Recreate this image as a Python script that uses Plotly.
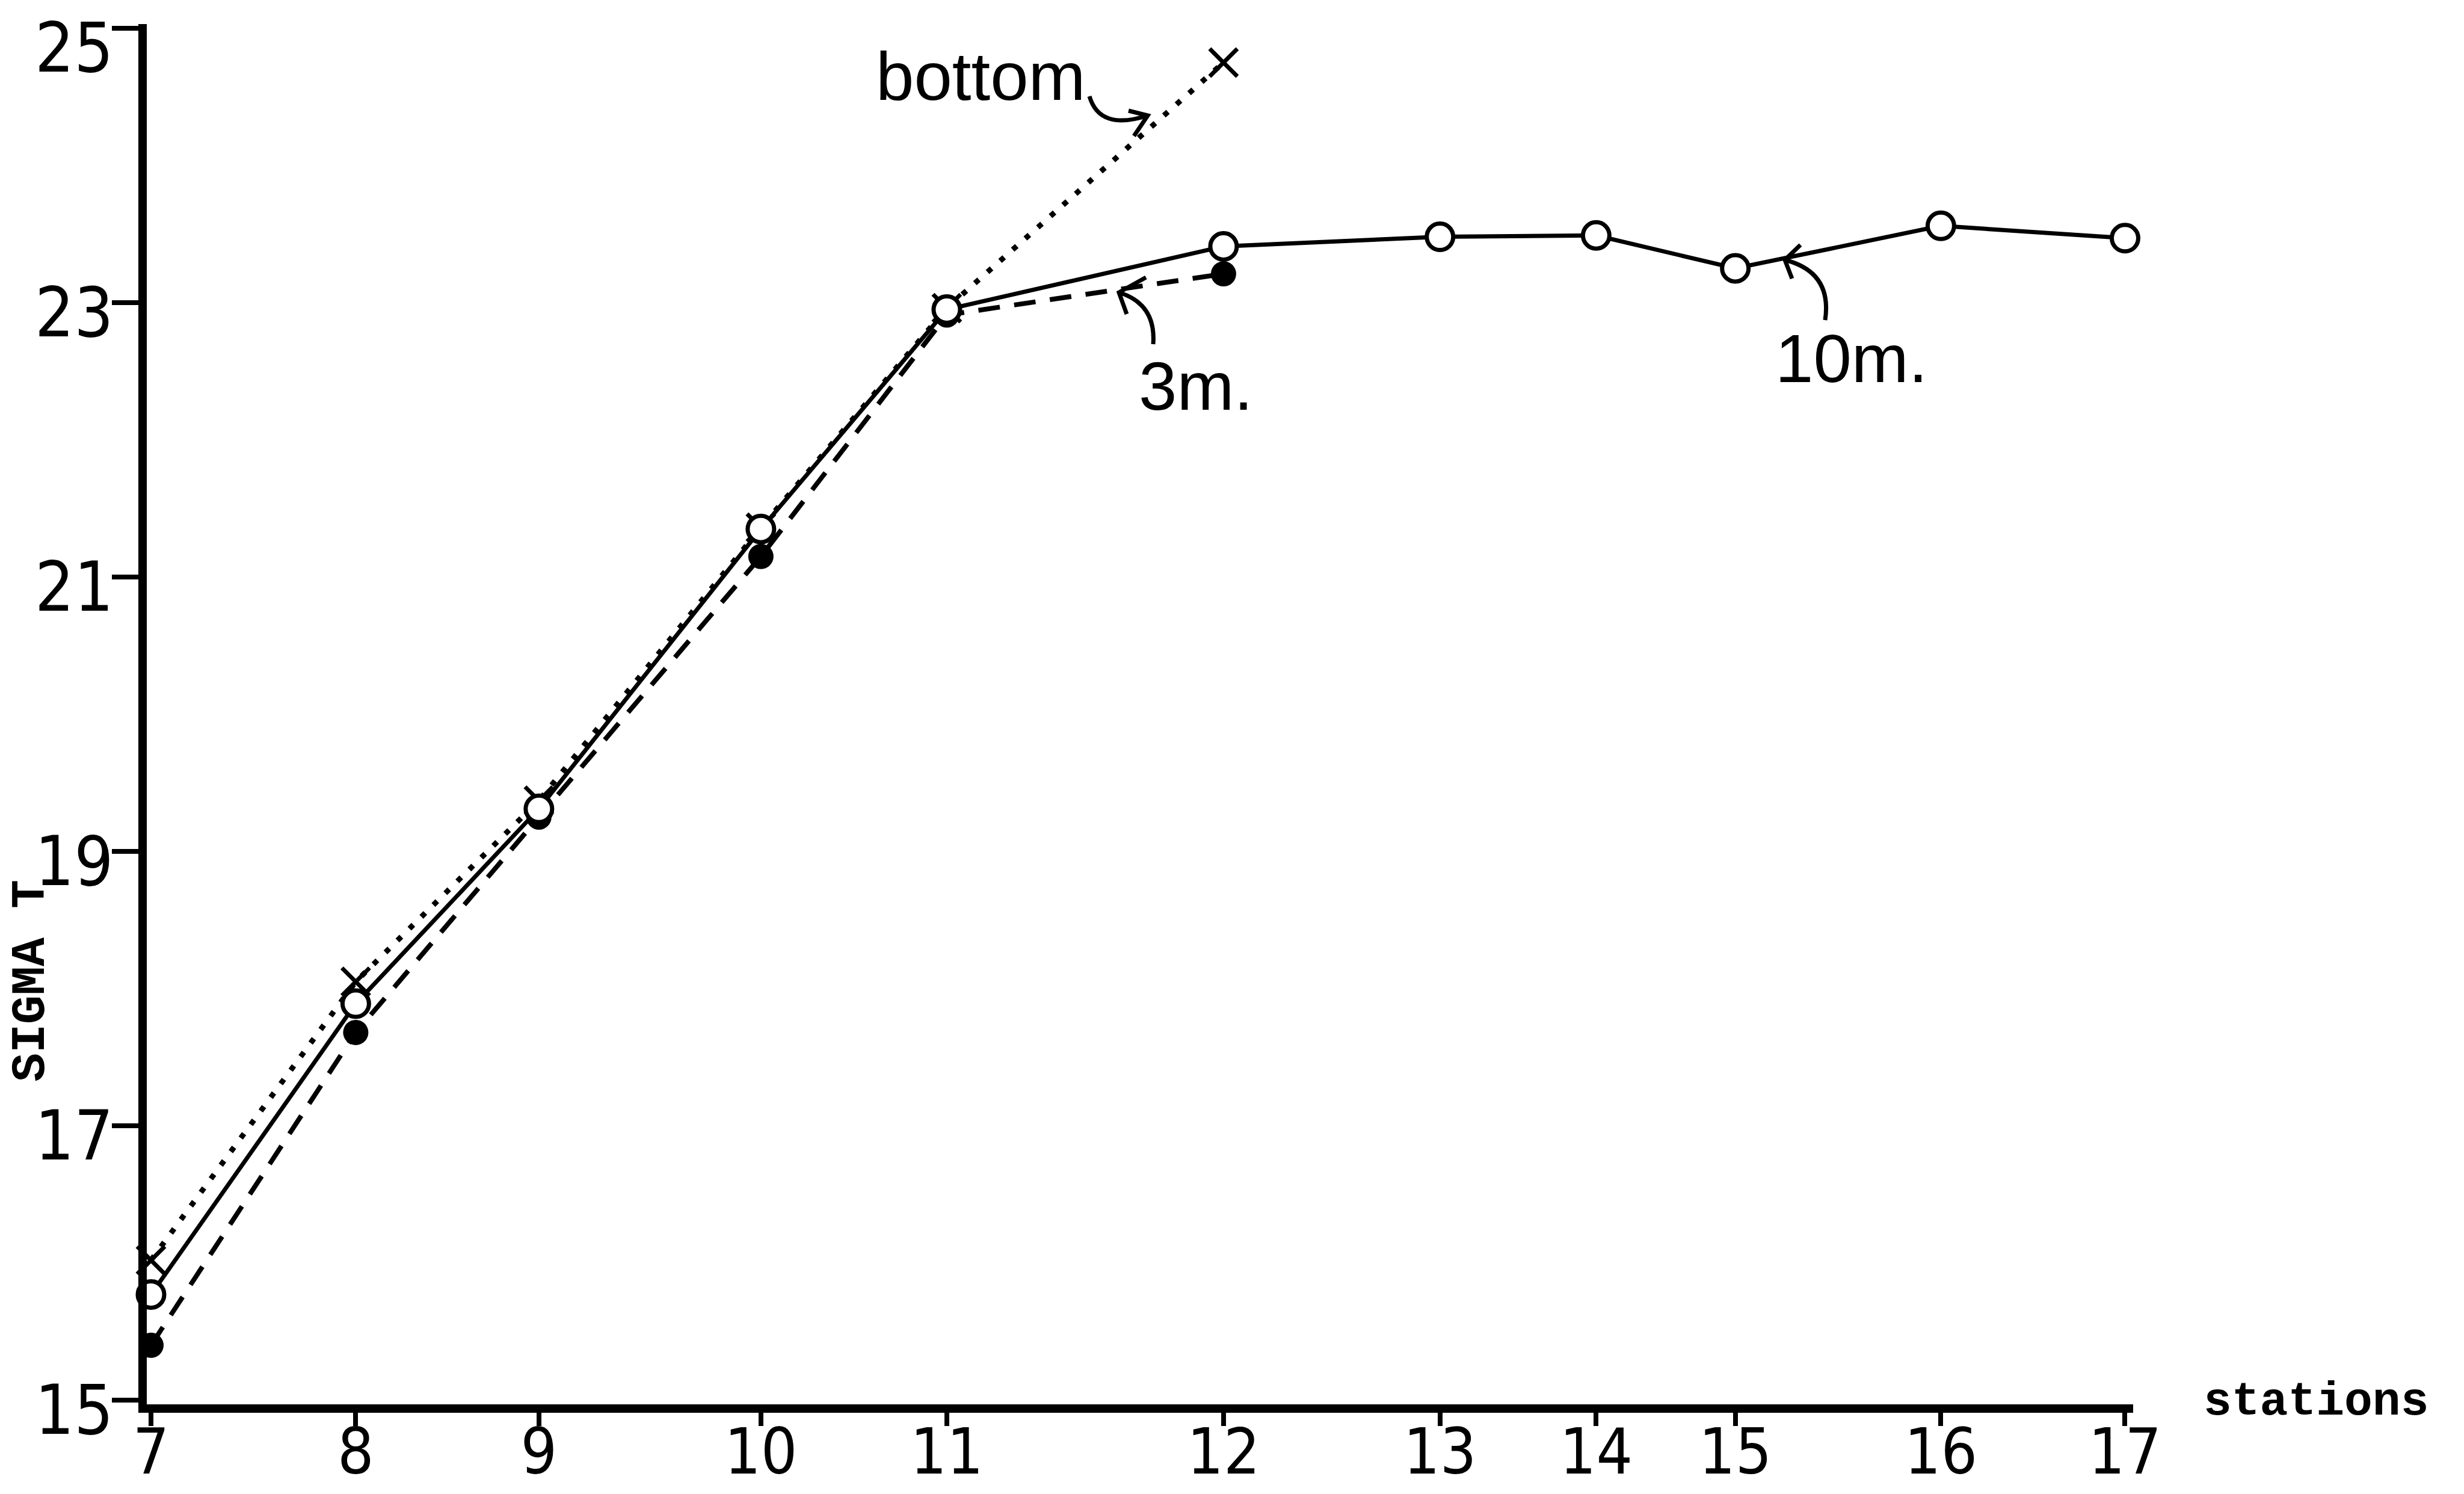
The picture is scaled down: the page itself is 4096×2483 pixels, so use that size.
import plotly.graph_objects as go

# ---- data ----
stations = [7, 8, 9, 10, 11, 12, 13, 14, 15, 16, 17]
# relative along-track position of each station (0 = station 7, 100 = end of axis)
distance = [0, 10.33, 19.57, 30.77, 40.15, 54.11, 65.03, 72.91, 79.93, 90.30, 99.59]

sigma_10m = [15.77, 17.89, 19.31, 21.35, 22.95, 23.41, 23.48, 23.49, 23.25, 23.56, 23.47]
sigma_3m = [15.40, 17.68, 19.25, 21.15, 22.91, 23.21]
sigma_bottom = [16.02, 18.05, 19.37, 21.36, 22.96, 24.75]

y_ticks = [15, 17, 19, 21, 23, 25]
tick_labels = [str(s) for s in stations]

# ---- layout geometry ----
W, H = 4096, 2483
LW = 14                     # axis line width
L, R, T, B = 244, 550, 40, 149
PW, PH = W - L - R, H - T - B
# plot edges sit half a line width outside the data origin (line centred on 7 / 15)
DX = (LW / 2) * 100 / (PW - LW / 2)
DY = (LW / 2) * 10 / (PH - LW)
X0, X1 = -DX, 100
Y0, Y1 = 15 - DY, 25 + DY


def px_x(p):
    return X0 + (p - L) / PW * (X1 - X0)


def px_y(p):
    return Y1 - (p - T) / PH * (Y1 - Y0)


BLACK = "#000000"
NUM_FONT = "Liberation Sans Narrow, DejaVu Sans Condensed, Arial Narrow, sans-serif"
LBL_FONT = "Liberation Sans, Arial, sans-serif"
TYPE_FONT = "Liberation Mono, Courier New, monospace"

fig = go.Figure()

# bottom : dotted line with x markers
fig.add_trace(go.Scatter(
    x=distance[:len(sigma_bottom)], y=sigma_bottom, mode="lines+markers",
    line=dict(color=BLACK, width=9, dash="9px,19px"),
    marker=dict(symbol="x-thin", size=46, line=dict(color=BLACK, width=7), color=BLACK),
    cliponaxis=False, name="bottom"))

# 3 m : dashed line with filled circles
fig.add_trace(go.Scatter(
    x=distance[:len(sigma_3m)], y=sigma_3m, mode="lines+markers",
    line=dict(color=BLACK, width=8, dash="36px,24px"),
    marker=dict(symbol="circle", size=42, color=BLACK),
    cliponaxis=False, name="3 m"))

# 10 m : solid line with open circles
fig.add_trace(go.Scatter(
    x=distance, y=sigma_10m, mode="lines+markers",
    line=dict(color=BLACK, width=7),
    marker=dict(symbol="circle", size=44, color="white", line=dict(color=BLACK, width=7)),
    cliponaxis=False, name="10 m"))

# ---- curved pointer arrows (hand-drawn style) ----
arrows = [
    # start, control, tip, barb1, barb2  (page pixels)
    ((1811, 160), (1828, 218), (1908, 192), (1876, 184), (1885, 226)),
    ((1917, 572), (1922, 505), (1860, 486), (1905, 461), (1873, 522)),
    ((3034, 532), (3046, 452), (2967, 432), (2993, 407), (2979, 463)),
]
for s, c, t, b1, b2 in arrows:
    path = (f"M {px_x(s[0])},{px_y(s[1])} Q {px_x(c[0])},{px_y(c[1])} {px_x(t[0])},{px_y(t[1])} "
            f"M {px_x(b1[0])},{px_y(b1[1])} L {px_x(t[0])},{px_y(t[1])} L {px_x(b2[0])},{px_y(b2[1])}")
    fig.add_shape(type="path", path=path, xref="x", yref="y",
                  line=dict(color=BLACK, width=7))

# ---- y tick labels (hand-lettered, sitting just below each tick) ----
YLAB_SIZE = 114
for v in y_ticks:
    # the top label is nudged a little further down so that it stays inside the page
    shift = -16 if v < max(y_ticks) else -32
    fig.add_annotation(text=str(v), x=(190 - L) / PW, y=v, xref="paper", yref="y",
                       yshift=shift, showarrow=False, xanchor="right", yanchor="middle",
                       font=dict(family=NUM_FONT, size=YLAB_SIZE, color=BLACK))

# ---- text labels ----
ann = [
    ("bottom", 1630, 126),
    ("3m.", 1988, 641),
    ("10m.", 3077, 595),
]
for txt, x, y in ann:
    fig.add_annotation(text=txt, x=px_x(x), y=px_y(y), xref="x", yref="y",
                       showarrow=False, xanchor="center", yanchor="middle",
                       font=dict(family=LBL_FONT, size=114, color=BLACK))

fig.add_annotation(text="<b>SIGMA T</b>", x=(52 - L) / PW, y=(H - B - 1630) / PH,
                   xref="paper", yref="paper", showarrow=False, textangle=-90,
                   xanchor="center", yanchor="middle",
                   font=dict(family=TYPE_FONT, size=80, color=BLACK))
fig.add_annotation(text="<b>stations</b>", x=(3661 - L) / PW, y=(H - B - 2330) / PH,
                   xref="paper", yref="paper", showarrow=False,
                   xanchor="left", yanchor="middle",
                   font=dict(family=TYPE_FONT, size=78, color=BLACK))

fig.update_layout(
    width=W, height=H,
    margin=dict(l=L, r=R, t=T, b=B, pad=0, autoexpand=False),
    paper_bgcolor="white", plot_bgcolor="white",
    showlegend=False,
    xaxis=dict(range=[X0, X1], tickmode="array", tickvals=distance, ticktext=tick_labels,
               automargin=False, ticklabeloverflow="allow", ticklabelstandoff=-48,
               showgrid=False, zeroline=False, showline=True, linecolor=BLACK, linewidth=LW,
               ticks="outside", ticklen=22, tickwidth=8, tickcolor=BLACK,
               tickfont=dict(family=NUM_FONT, size=106, color=BLACK)),
    yaxis=dict(range=[Y0, Y1], tickmode="array", tickvals=y_ticks, showticklabels=False,
               automargin=False,
               showgrid=False, zeroline=False, showline=True, linecolor=BLACK, linewidth=LW,
               ticks="outside", ticklen=44, tickwidth=8, tickcolor=BLACK),
)

fig.write_html("out.html")
